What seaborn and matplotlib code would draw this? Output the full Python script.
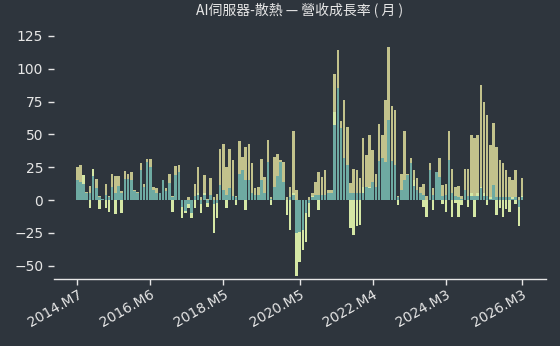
import numpy as np
import pandas as pd
import seaborn as sns
import matplotlib.pyplot as plt

# monthly categories 2014.M7 .. 2026.M3
months = [f"{p.year}.M{p.month}" for p in pd.period_range("2014-07", "2026-03", freq="M")]
tick_labels = ["2014.M7", "2016.M6", "2018.M5", "2020.M5", "2022.M4", "2024.M3", "2026.M3"]

# khaki series (drawn first)
yoy = [25, 27, 12, 6, 11, 20, 16, 3, 1, 12, 3, 20, 18, 18, 7, 22, 20, 21, 7.6, 6,
       28, 12, 31, 31.5, 9.6, 9, 5, 14, 9, 20, 3, 26, 26.7, -3, -2, 2, -4, 12, 25, 2,
       19, 1, 16.5, 2, 4.6, 38.6, 43, 25, 39, 30.5, 3, 45, 33, 40.6, 43, 28, 9, 10, 31, 17.8,
       45.7, 2, 33, 35, 30.5, 29, 2, 9.6, 52.6, 7.6, -10, -10, -5, 2, 5, 14, 21.6, 17.8, 23, 7.6,
       7.6, 96, 114, 60, 76, 56, 12.7, 24, 23, 16.5, 47, 34, 49.5, 38, 20, 58, 49.5, 76, 116.6, 72,
       68.6, 3, 20, 52.6, 20, 31.7, 23, 16.5, 10, 12, 3, 28, 9, 21, 31.7, 11.4, 12, 52.6, 24, 10,
       10.7, 3, 24, 24, 49.5, 47, 49.5, 87.6, 75, 64.8, 42, 58.4, 40.6, 30.5, 28, 22.9, 17.8, 15, 22.9, 2,
       16.5]
# light green series (drawn second)
mom = [10, 10, 19, 3, -6, 24, 5, -7, 0, -6, -9, 8, -11, 8, -10, 10, 8, 8, 3, 2,
       10, 4, 10, 10, 3, 2, 2, 5, 3, 5, -9, 8, 8, -14, -10, -6, -13.5, -6, 5, -10,
       5, -5, 3, -25, -14, 5, 5, -6, 5, 2, -4, 10, 10, -7.6, 10, 3, 2, 2, 8, 3,
       10, -4, 5, 10, 10, 5, -11.4, -23, 5, -58, -47, -38, -32, -13, 3, 2, -7.6, 3, 3, 3,
       2, 67, 20, 10, 10, 10, -21.6, -27, -20, -19, 10, 10, 10, 10, 5, 10, 10, 10, 20, 10,
       10, -4, 5, 10, 5, 10, 15, 5, 3, -5, -13, 10, -7.6, 10, 10, -3, -9, 10, -12.7, -2,
       -12.7, -4, 5, -5, 5, -12.7, 5, 10, 5, -4, 2, 10, -11.4, -6, -12.7, -7, -8.9, 2, -3, -20,
       3]
# teal series (drawn last)
cum = [15, 14, 12, 5, 5, 18, 9, 2, 1, 4, 2, 10, 5, 11, 5, 16, 16, 15, 7, 5,
       23, 10, 29, 25, 8, 5, 5, 15, 7, 13, 2, 19, 21, -5, -8, -3, -10, 3, 4, -3,
       4, -2.5, 4, -3, -2, 11.4, 7.6, 4, 9, 3, 2, 20, 23, 15, 15, 5, 4, 4, 15, 5,
       29, 1, 10, 18, 29, 14, 0, 2, 4, -25, -24, -23, -10, -2, 2, 4, 4, 4, 4, 5,
       5, 57, 85, 55, 32, 27, 5, 5, 5, 5, 5, 10, 9, 14, 10, 30, 32, 29, 61, 30,
       27, 2, 8, 15, 19, 28, 11, 8, 5, 4, 0, 23, 4, 21.6, 17.8, 3, 4, 30.5, 5, 3,
       2, 1, 7.6, 3, 3, 3, 3, 8.9, 3, 3, 1, 11.4, 2, 2, 2, 2, 2, 1, 2, -5,
       2]

BG = "#2e353d"
FG = "#e6e6e6"
KHAKI = "#c2c28c"
LIGHT = "#d5e7a5"
TEAL = "#6eaaa2"

sns.set_theme(style="dark", rc={"axes.facecolor": BG, "figure.facecolor": BG})
plt.rcParams['font.family'] = ['DejaVu Sans']

fig, ax = plt.subplots(figsize=(5.6, 3.46), dpi=100)
ax.set_position([0.0957, 0.1936, 0.8788, 0.7214])

for vals, col in [(yoy, KHAKI), (mom, LIGHT), (cum, TEAL)]:
    sns.barplot(x=months, y=vals, color=col, saturation=1, width=0.8,
                errorbar=None, linewidth=0, ax=ax)

ax.set_xlim(-7.44, 147.44)
ax.set_ylim(-60.2, 130)
ax.set_yticks(np.arange(-50, 126, 25))
ax.set_xticks([months.index(t) for t in tick_labels])
ax.set_xticklabels(tick_labels, rotation=30, ha="right", rotation_mode="anchor")
ax.tick_params(axis="both", colors=FG, labelcolor=FG, labelsize=10, length=4, width=1,
               bottom=True, left=True)
ax.tick_params(axis="x", pad=2)
ax.set_xlabel("")
ax.set_ylabel("")
ax.grid(False)
for s in ["top", "right", "left"]:
    ax.spines[s].set_visible(False)
ax.spines["bottom"].set_color(FG)
ax.spines["bottom"].set_linewidth(1)

ax.set_title("AI伺服器-散熱 — 營收成長率 ( 月 )", color=FG, fontsize=10,
             family=['Noto Sans CJK TC', 'DejaVu Sans'], pad=10)

fig.savefig("out.png", dpi=100, facecolor=BG)
